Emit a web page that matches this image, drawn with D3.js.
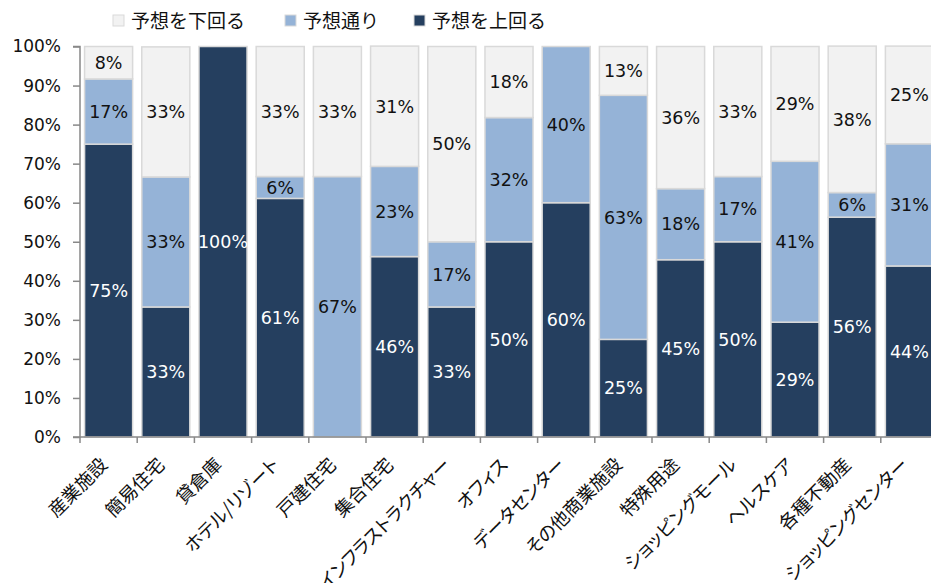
<!DOCTYPE html>
<html>
<head>
<meta charset="utf-8">
<script src="https://cdn.jsdelivr.net/npm/d3@7"></script>
<style>
  body { margin: 0; background: #fff; }
  svg { display: block; }
</style>
</head>
<body>
<div id="chart"></div>
<script>
// categories, left to right
var categories = ["産業施設", "簡易住宅", "貸倉庫", "ホテル/リゾート", "戸建住宅", "集合住宅",
    "インフラストラクチャー", "オフィス", "データセンター", "その他商業施設", "特殊用途",
    "ショッピングモール", "ヘルスケア", "各種不動産", "ショッピングセンター"];

// shares (%)
var above  = [75, 33.3, 100, 61.1, 0, 46.2, 33.3, 50, 60, 25, 45.4, 50, 29.4, 56.3, 43.8];
var asExp  = [16.7, 33.3, 0, 5.6, 66.7, 23.1, 16.7, 31.8, 40, 62.5, 18.2, 16.7, 41.2, 6.3, 31.3];
var below  = [8.3, 33.3, 0, 33.3, 33.3, 30.8, 50, 18.2, 0, 12.5, 36.4, 33.3, 29.4, 37.5, 25];

var seriesNames = ["予想を上回る", "予想通り", "予想を下回る"];
var yTicks = [0, 10, 20, 30, 40, 50, 60, 70, 80, 90, 100];

var colors = { "予想を上回る": "#253f5f", "予想通り": "#95b3d7", "予想を下回る": "#f2f2f2" };
var labelColors = { "予想を上回る": "#ffffff", "予想通り": "#111", "予想を下回る": "#111" };

var width = 931, height = 583;
var margin = {top: 46.5, left: 80, bottom: 146};

var rows = categories.map(function (c, i) {
    return {cat: c, "予想を上回る": above[i], "予想通り": asExp[i], "予想を下回る": below[i]};
});

var svg = d3.select("#chart").append("svg")
    .attr("width", width)
    .attr("height", height);

var x = d3.scaleBand()
    .domain(categories)
    .range([margin.left, margin.left + 57.2 * categories.length])
    .paddingInner(0.16)
    .paddingOuter(0.08);

var y = d3.scaleLinear()
    .domain([0, 100])
    .range([height - margin.bottom, margin.top]);

var stack = d3.stack().keys(seriesNames);
var layers = stack(rows);

// bars
var layer = svg.selectAll("g.layer")
    .data(layers)
    .enter().append("g")
    .attr("class", "layer");

layer.selectAll("rect")
    .data(function (d) { return d.map(function (p) { return {key: d.key, p: p}; }); })
    .enter().append("rect")
    .filter(function (d) { return d.p[1] - d.p[0] > 0; })
    .attr("x", function (d) { return x(d.p.data.cat); })
    .attr("width", x.bandwidth())
    .attr("y", function (d) { return y(d.p[1]); })
    .attr("height", function (d) { return y(d.p[0]) - y(d.p[1]); })
    .attr("fill", function (d) { return colors[d.key]; })
    .attr("stroke", "#d9d9d9")
    .attr("stroke-width", 1.5);

// value labels
layer.selectAll("text")
    .data(function (d) { return d.map(function (p) { return {key: d.key, p: p}; }); })
    .enter().append("text")
    .filter(function (d) { return d.p[1] - d.p[0] > 0; })
    .attr("x", function (d) { return x(d.p.data.cat) + x.bandwidth() / 2; })
    .attr("y", function (d) { return y((d.p[0] + d.p[1]) / 2); })
    .attr("dy", "0.36em")
    .attr("text-anchor", "middle")
    .style("font-family", "'DejaVu Sans', Verdana, sans-serif")
    .style("font-size", "17.5px")
    .attr("fill", function (d) { return labelColors[d.key]; })
    .text(function (d) { return Math.round(d.p[1] - d.p[0]) + "%"; });

// y axis
var yAxis = svg.append("g")
    .attr("transform", "translate(" + margin.left + ",0)")
    .call(d3.axisLeft(y).tickValues(yTicks).tickSize(7).tickFormat(function (d) { return d + "%"; }));
yAxis.selectAll("path, line").attr("stroke", "#888").attr("stroke-width", 1.5);
yAxis.select(".domain").attr("d", "M-7," + y(100) + "H0V" + y(0) + "H-7");
yAxis.selectAll("text")
    .attr("fill", "#111")
    .attr("x", -19)
    .style("font-family", "'DejaVu Sans', Verdana, sans-serif")
    .style("font-size", "17px");

// x axis baseline and ticks between categories
var x0 = x.range()[0], x1 = x.range()[1], step = x.step();
svg.append("line")
    .attr("x1", x0).attr("x2", x1)
    .attr("y1", y(0)).attr("y2", y(0))
    .attr("stroke", "#888").attr("stroke-width", 1.5);

svg.selectAll("line.xtick")
    .data(d3.range(categories.length + 1))
    .enter().append("line")
    .attr("class", "xtick")
    .attr("x1", function (i) { return x0 + i * step; })
    .attr("x2", function (i) { return x0 + i * step; })
    .attr("y1", y(0)).attr("y2", y(0) + 6)
    .attr("stroke", "#888").attr("stroke-width", 1.5);

// x labels rotated
svg.selectAll("text.xlabel")
    .data(categories)
    .enter().append("text")
    .attr("class", "xlabel")
    .attr("transform", function (d) {
        return "translate(" + (x(d) + x.bandwidth() / 2) + "," + (y(0) + 29) + ") rotate(-45)";
    })
    .attr("text-anchor", "end")
    .style("font-family", "'Noto Sans CJK JP', sans-serif")
    .style("font-feature-settings", "'palt'")
    .style("font-size", "18.5px")
    .attr("fill", "#111")
    .text(function (d) { return d; });

// legend
var legendItems = [
    {name: "予想を下回る", x: 113},
    {name: "予想通り", x: 285},
    {name: "予想を上回る", x: 414}
];
var legend = svg.selectAll("g.legend")
    .data(legendItems)
    .enter().append("g")
    .attr("class", "legend")
    .attr("transform", function (d) { return "translate(" + d.x + ",15)"; });

legend.append("rect")
    .attr("width", 11).attr("height", 11)
    .attr("fill", function (d) { return colors[d.name]; })
    .attr("stroke", "#d9d9d9")
    .attr("stroke-width", 1);

legend.append("text")
    .attr("x", 18)
    .attr("y", 6)
    .attr("dy", "0.36em")
    .style("font-family", "'Noto Sans CJK JP', sans-serif")
    .style("font-size", "19px")
    .attr("fill", "#111")
    .text(function (d) { return d.name; });
</script>
</body>
</html>
